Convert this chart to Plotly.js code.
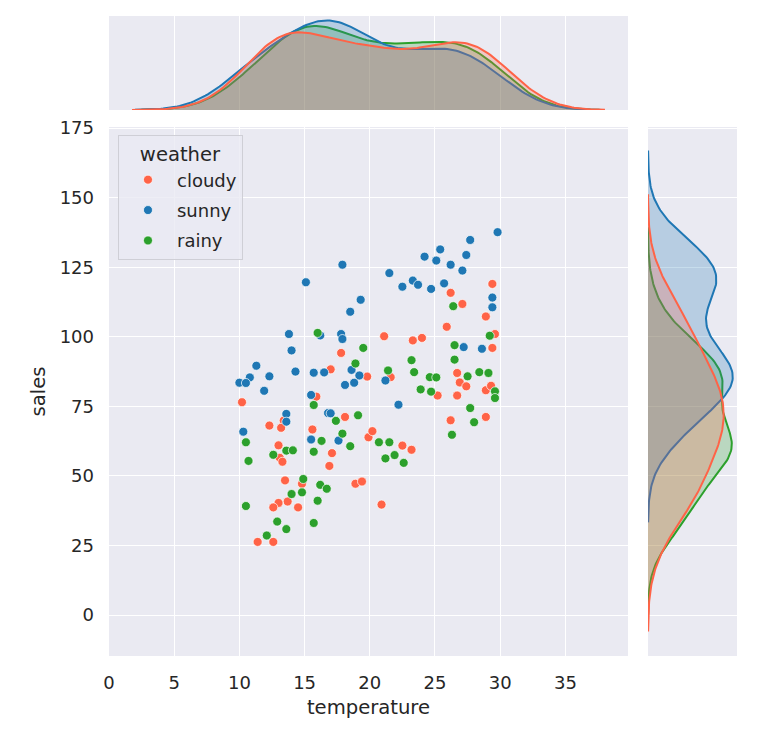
<!DOCTYPE html>
<html>
<head>
<meta charset="utf-8">
<script src="https://cdn.plot.ly/plotly-3.0.1.min.js"></script>
<style>
html, body {margin:0; padding:0; background:#ffffff;}
#chart {width:760px; height:733px;}
</style>
</head>
<body>
<div id="chart"></div>
<script>
// weather groups, values
var cloudyTemp  = [26.2,29.4,27.1,28.9,25.9,21.1,23.3,24.0,29.6,29.4,17.8,10.2,17.0,19.8,15.9,13.4,12.3,13.2,13.0,13.1,
                   13.3,18.1,15.6,19.9,20.2,17.1,16.9,21.6,25.2,26.7,26.9,27.4,28.9,29.3,26.7,26.2,28.9,22.5,23.2,13.5,
                   14.8,18.9,19.4,13.7,13.0,12.6,14.5,11.4,12.6,20.9];
var cloudySales = [115.8,119,111.8,107.3,103.6,100.2,98.7,99.6,101,96,94.2,76.5,88.3,85.7,78.5,69.9,68.1,67.3,61,56.5,
                   55.1,71.2,66.7,63.9,66.1,58.2,53.6,85.5,78.9,87,83.6,82.2,80.8,82.4,78.9,70,71.2,60.9,59.4,48.4,
                   47.2,47.2,48,40.8,40.3,38.7,38.7,26.3,26.3,39.7];
var sunnyTemp   = [29.8,27.7,25.4,24.2,25.1,27.4,26.2,27.1,21.5,22.5,23.3,23.7,24.7,25.7,29.4,29.4,27.2,28.6,17.9,15.1,
                   19.3,18.5,13.8,14.0,16.2,17.8,17.9,11.3,12.3,10.8,10.0,10.5,14.3,11.9,15.7,16.5,18.6,19.2,18.8,18.1,
                   15.5,13.6,13.6,10.3,16.8,17.0,15.5,17.6,21.2,22.2];
var sunnySales  = [137.6,134.8,131.4,128.8,127.4,129.4,125.9,123.8,122.9,118,120.2,118.7,117.2,119.2,114.1,110.6,96.3,95.7,125.9,119.6,
                   113.3,109,101,95.1,100.5,101,99.2,89.6,85.8,85.4,83.5,83.4,87.5,80.6,87.1,87.2,88.1,86.1,83.5,82.7,
                   79.1,72.3,69.5,65.9,72.6,72.5,63.1,62.7,84.3,75.6];
var rainyTemp   = [26.4,29.2,26.5,23.2,26.5,16.0,19.5,18.9,15.7,10.5,13.6,14.1,12.6,10.7,17.4,19.1,16.3,17.9,18.5,15.7,
                   21.4,23.4,24.6,25.1,23.9,24.7,27.5,28.4,29.1,29.6,29.6,27.7,28.0,26.3,20.7,21.5,21.9,21.2,22.6,14.9,
                   16.2,16.7,14.0,14.8,16.0,10.5,12.9,13.6,15.7,12.1];
var rainySales  = [111,100.4,97,91.6,91.8,101.4,96,90.4,75.5,62.1,59.1,59.2,57.6,55.4,69.8,71.8,62.6,65.2,60.7,58.7,
                   87.9,87.3,85.5,85.4,81.1,80.3,85.8,87.3,87,80.4,78,74.4,69.3,64.8,62.1,62.1,57.5,56.3,54.7,48.9,
                   46.8,45.4,43.5,44.1,41.1,39.2,33.6,30.9,33.1,28.6];

var groupNames  = ['cloudy','sunny','rainy'];
var groupColors = ['tomato','#1f77b4','#2ca02c'];
var groupFills  = ['rgba(255,99,71,0.25)','rgba(31,119,180,0.25)','rgba(44,160,44,0.25)'];

var FONT = 'DejaVu Sans, Verdana, sans-serif';
var TXT = '#262626';
var total = cloudyTemp.length + sunnyTemp.length + rainyTemp.length;

// gaussian kde, scott bandwidth, cut=3 (like seaborn), scaled by group share
function kde(vals){
  var n = vals.length, mean = 0, v = 0;
  vals.forEach(function(x){mean += x;}); mean /= n;
  vals.forEach(function(x){v += (x-mean)*(x-mean);}); v /= (n-1);
  var bw = Math.sqrt(v)*Math.pow(n, -0.2);
  var lo = Math.min.apply(null, vals) - 3*bw, hi = Math.max.apply(null, vals) + 3*bw;
  var grid = [], dens = [];
  for (var i = 0; i < 200; i++){
    var g = lo + (hi-lo)*i/199, s = 0;
    for (var j = 0; j < n; j++){ var z = (g-vals[j])/bw; s += Math.exp(-0.5*z*z); }
    grid.push(g);
    dens.push(s/(n*bw*Math.sqrt(2*Math.PI)) * n/total);
  }
  return {grid:grid, dens:dens};
}

var temps = [cloudyTemp, sunnyTemp, rainyTemp];
var sales = [cloudySales, sunnySales, rainySales];

var data = [];
var maxX = 0, maxY = 0;
var kx = [], ky = [];
for (var i = 0; i < 3; i++){
  kx.push(kde(temps[i])); ky.push(kde(sales[i]));
  maxX = Math.max(maxX, Math.max.apply(null, kx[i].dens));
  maxY = Math.max(maxY, Math.max.apply(null, ky[i].dens));
}

// marginals, last hue drawn first
for (var i = 2; i >= 0; i--){
  data.push({x:kx[i].grid, y:kx[i].dens, xaxis:'x', yaxis:'y2', type:'scatter', mode:'lines',
    line:{color:groupColors[i], width:2}, fill:'tozeroy', fillcolor:groupFills[i],
    showlegend:false, hoverinfo:'skip'});
  data.push({x:ky[i].dens, y:ky[i].grid, xaxis:'x2', yaxis:'y', type:'scatter', mode:'lines',
    line:{color:groupColors[i], width:2}, fill:'tozerox', fillcolor:groupFills[i],
    showlegend:false, hoverinfo:'skip'});
}

// scatter
for (var i = 0; i < 3; i++){
  data.push({x:temps[i], y:sales[i], xaxis:'x', yaxis:'y', type:'scatter', mode:'markers',
    name:groupNames[i], legendgroup:groupNames[i],
    marker:{color:groupColors[i], size:9, line:{color:'#ffffff', width:0.7}}});
}

var layout = {
  width:760, height:733,
  margin:{l:109, r:23, t:16, b:77},
  paper_bgcolor:'#ffffff',
  plot_bgcolor:'#EAEAF2',
  font:{family:FONT, color:TXT, size:18},
  showlegend:true,
  legend:{
    x:0.0143, y:0.8141, xanchor:'left', yanchor:'top',
    bgcolor:'rgba(234,234,242,0.8)', bordercolor:'#cfcfd6', borderwidth:1,
    font:{family:FONT, size:18, color:TXT},
    title:{text:'weather', side:'top center', font:{family:FONT, size:19.6, color:TXT}},
    itemwidth:48,
    tracegroupgap:4
  },
  xaxis:{domain:[0, 0.8264], range:[0, 39.8], tick0:0, dtick:5, showgrid:true, gridcolor:'#ffffff', gridwidth:1.3,
    zeroline:false, showline:false, ticks:'', ticklabelstandoff:14,
    tickfont:{family:FONT, size:18, color:TXT},
    title:{text:'temperature', standoff:8, font:{family:FONT, size:19.6, color:TXT}}},
  yaxis:{domain:[0, 0.8266], range:[-14.7, 175.4], tick0:0, dtick:25, showgrid:true, gridcolor:'#ffffff', gridwidth:1.3,
    zeroline:false, showline:false, ticks:'', ticklabelstandoff:14,
    tickfont:{family:FONT, size:18, color:TXT},
    title:{text:'sales', standoff:8, font:{family:FONT, size:19.6, color:TXT}}},
  xaxis2:{domain:[0.8583, 1], range:[0, maxY*1.05], showgrid:false, zeroline:false, showticklabels:false, ticks:''},
  yaxis2:{domain:[0.8531, 1], range:[0, maxX*1.05], showgrid:false, zeroline:false, showticklabels:false, ticks:''}
};

var config = {displayModeBar:false, responsive:false};
Plotly.newPlot('chart', data, layout, config);
</script>
</body>
</html>
